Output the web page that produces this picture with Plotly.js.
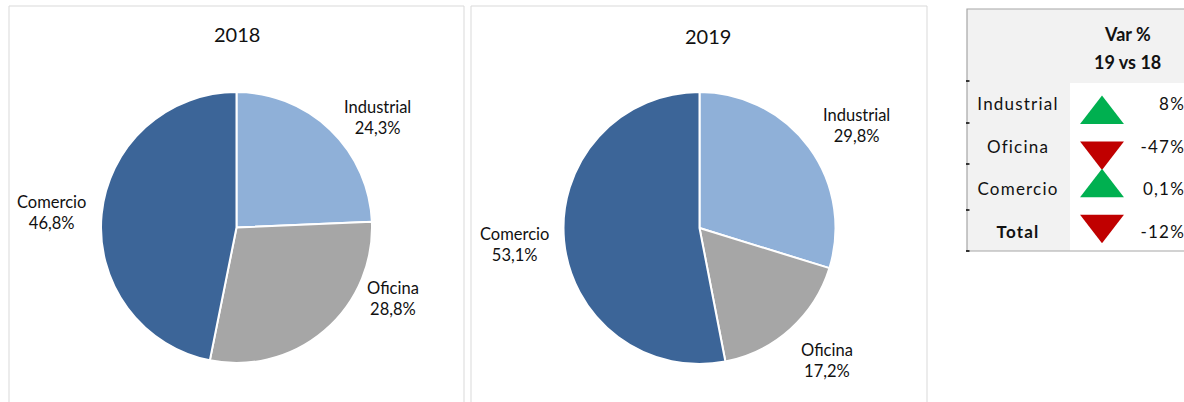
<!DOCTYPE html>
<html>
<head>
<meta charset="utf-8">
<script src="https://cdn.plot.ly/plotly-3.0.1.min.js"></script>
<style>
  html, body { margin: 0; padding: 0; background: #fff; }
  #chart { width: 1184px; height: 402px; }
  /* Table cells are set with a little tracking */
  .xy .textpoint text { letter-spacing: 1.2px; }
</style>
</head>
<body>
<div id="chart"></div>
<script>
// Market share by segment (%)
const categories = ['Industrial', 'Oficina', 'Comercio'];
const share2018 = [24.3, 28.8, 46.8];
const share2019 = [29.8, 17.2, 53.1];
const years = ['2018', '2019'];

// Year-on-year change, 19 vs 18 (%)
const tableRows = ['Industrial', 'Oficina', 'Comercio', 'Total'];
const varPct = [8, -47, 0.1, -12];

const sliceColors = ['#8FB0D8', '#A6A6A6', '#3C6598'];
const upColor = '#00B050';
const downColor = '#C00000';
const font = 'Lato, "Open Sans", sans-serif';

const W = 1184, H = 402;
const px = x => x / W;
const py = y => 1 - y / H;

const fmt = v => String(v).replace('.', ',') + '%';
const fmt1 = v => v.toFixed(1).replace('.', ',') + '%';

// Pie geometry: centre and radius in pixels
const pies = [
  { values: share2018, cx: 236.5, cy: 227.5, r: 135.5, titleX: 236.5, titleY: 34,
    labelPos: [[377, 117], [392.5, 298], [51, 212]] },
  { values: share2019, cx: 699.5, cy: 228, r: 136, titleX: 708, titleY: 36,
    labelPos: [[856, 125.5], [827.5, 360], [514, 244.7]] }
];

const traces = [];
const annotations = [];

pies.forEach((p, i) => {
  traces.push({
    type: 'pie',
    labels: categories,
    values: p.values,
    sort: false,
    direction: 'clockwise',
    rotation: 0,
    textinfo: 'none',
    hoverinfo: 'label+percent',
    marker: { colors: sliceColors, line: { color: '#FFFFFF', width: 2 } },
    domain: { x: [px(p.cx - p.r), px(p.cx + p.r)], y: [py(p.cy + p.r), py(p.cy - p.r)] },
    showlegend: false
  });
  annotations.push({
    xref: 'paper', yref: 'paper', x: px(p.titleX), y: py(p.titleY),
    xanchor: 'center', yanchor: 'middle', showarrow: false,
    text: years[i], font: { family: font, size: 20, color: '#111111' }
  });
  categories.forEach((c, k) => {
    annotations.push({
      xref: 'paper', yref: 'paper', x: px(p.labelPos[k][0]), y: py(p.labelPos[k][1]),
      xanchor: 'center', yanchor: 'middle', showarrow: false, align: 'center',
      text: c + '<br>' + fmt1(p.values[k]),
      font: { family: font, size: 16.5, color: '#111111' }
    });
  });
});

// Variation table: text column on y, arrows on y2
const rowIdx = tableRows.map((_, i) => i);
traces.push({
  type: 'scatter', mode: 'text', xaxis: 'x', yaxis: 'y',
  x: tableRows.map(() => 51), y: rowIdx,
  text: tableRows.map(r => r === 'Total' ? '<b>' + r + '</b>' : r),
  textposition: 'middle center',
  textfont: { family: font, size: 17, color: '#111111' },
  hoverinfo: 'skip', showlegend: false
});
traces.push({
  type: 'scatter', mode: 'text', xaxis: 'x', yaxis: 'y',
  x: tableRows.map(() => 218), y: rowIdx,
  text: varPct.map(fmt),
  textposition: 'middle left',
  textfont: { family: font, size: 17, color: '#111111' },
  hoverinfo: 'skip', showlegend: false
});
traces.push({
  type: 'scatter', mode: 'markers', xaxis: 'x', yaxis: 'y2',
  x: tableRows.map(() => 135), y: rowIdx,
  marker: {
    symbol: varPct.map(v => v >= 0 ? 'triangle-up' : 'triangle-down'),
    color: varPct.map(v => v >= 0 ? upColor : downColor),
    size: 38, line: { width: 0 }
  },
  hoverinfo: 'skip', showlegend: false
});

annotations.push(
  { xref: 'paper', yref: 'paper', x: px(1127.5), y: py(34.5), xanchor: 'center', yanchor: 'middle',
    showarrow: false, text: '<b>Var %</b>', font: { family: font, size: 18, color: '#111111' } },
  { xref: 'paper', yref: 'paper', x: px(1127.5), y: py(61.5), xanchor: 'center', yanchor: 'middle',
    showarrow: false, text: '<b>19 vs 18</b>', font: { family: font, size: 18, color: '#111111' } }
);

const rect = (x0, y0, x1, y1, extra) => Object.assign({
  type: 'rect', xref: 'paper', yref: 'paper',
  x0: px(x0), x1: px(x1), y0: py(y1), y1: py(y0)
}, extra);

const shapes = [
  rect(9, 6, 464, 430, { line: { color: '#D9D9D9', width: 1 }, fillcolor: 'rgba(0,0,0,0)' }),
  rect(471, 6, 927, 430, { line: { color: '#D9D9D9', width: 1 }, fillcolor: 'rgba(0,0,0,0)' }),
  rect(967, 9, 1200, 251, { line: { width: 0 }, fillcolor: '#F2F2F2', layer: 'below' }),
  rect(1070, 83, 1200, 251, { line: { width: 0 }, fillcolor: '#FFFFFF', layer: 'below' }),
  rect(967, 9, 1200, 251, { line: { color: '#A6A6A6', width: 1.2 }, fillcolor: 'rgba(0,0,0,0)' })
];
[81, 123, 164, 210, 251].forEach(y => shapes.push({
  type: 'line', xref: 'paper', yref: 'paper',
  x0: px(966), x1: px(969.5), y0: py(y), y1: py(y),
  line: { color: '#000000', width: 1.5 }
}));

const layout = {
  width: W, height: H,
  margin: { l: 0, r: 0, t: 0, b: 0 },
  paper_bgcolor: '#FFFFFF',
  plot_bgcolor: 'rgba(0,0,0,0)',
  showlegend: false,
  font: { family: font },
  xaxis: { domain: [px(967), 1], range: [0, 217], visible: false, fixedrange: true },
  yaxis: { domain: [0, 1], range: [6.952, -2.485], visible: false, fixedrange: true },
  yaxis2: { overlaying: 'y', range: [7.847, -3.122], visible: false, fixedrange: true },
  shapes: shapes,
  annotations: annotations
};

Plotly.newPlot('chart', traces, layout, { displayModeBar: false, staticPlot: true });
</script>
</body>
</html>
